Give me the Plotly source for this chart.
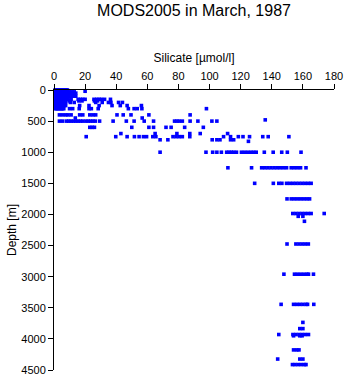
import plotly.graph_objects as go

# ---- data: depth level (m) -> silicate values (umol/l) ----
blk = [0.7, 1.5, 2.3, 3.1, 3.9, 4.7, 5.5, 6.3, 7.1, 7.9]
blk_s = [0.7, 1.5, 2.3, 3.1, 3.9, 4.7, 5.5, 6.3]

depths = [0, 10, 20, 30, 40, 50, 75, 100, 125, 150, 175, 200, 250, 300,
          400, 450, 480, 500, 600, 700, 750, 800, 825, 1000, 1250, 1500,
          1750, 1985, 2030, 2110, 2475, 2960, 3445, 3735, 3835, 3930,
          3950, 4177, 4324, 4413]

silicate_rows = [
    blk + [8.6],
    blk + [8.6],
    blk + [8.6, 20.0],
    blk + [8.6, 10.0, 11.5, 13.0],
    blk + [8.6, 9.5, 11.0],
    blk + [8.6, 10.0, 12.0, 14.0],
    blk + [9.0, 11.0, 13.0],
    blk + [8.6, 10.0, 12.0, 14.0],
    blk + [9.0],
    blk + [9.0, 11.0, 15.5, 17.0, 18.5, 20.0, 25.7, 27.5, 29.0, 30.5, 32.5, 36.3],
    blk_s + [7.5, 10.0, 16.0, 18.0, 26.0, 28.0],
    blk_s + [7.5, 10.5, 13.0, 26.8, 31.0, 35.0, 36.6, 41.5, 44.0],
    blk_s + [7.5, 16.5, 22.5, 29.0, 37.3, 42.6, 47.0, 56.2],
    blk_s + [10.0, 12.0, 16.2, 22.5, 24.0, 28.4, 47.8, 51.5, 53.5, 56.5, 98.0],
    [3.5, 5.5, 7.5, 9.0, 11.0, 16.5, 18.5, 23.0, 25.0, 26.8, 40.5, 44.5, 49.5, 61.0, 87.5],
    [13.7, 56.7],
    [135.8],
    [3.5, 5.5, 8.0, 9.5, 11.0, 12.5, 14.0, 15.5, 17.0, 18.5, 20.5, 22.0, 23.5, 25.0,
     26.5, 29.3, 38.0, 46.5, 51.5, 58.0, 64.0, 77.5, 79.0, 80.5, 82.5, 87.5, 92.5,
     101.5, 104.7],
    [23.0, 24.5, 26.0, 50.0, 61.0, 64.0, 72.0, 75.3, 84.0, 96.0],
    [43.0, 65.0, 79.0, 87.3, 94.0, 111.6],
    [20.7, 39.7, 47.0, 51.7, 54.7, 57.5, 59.5, 63.5, 65.5, 76.5, 78.5, 80.5, 82.5,
     87.3, 109.0, 113.5, 118.5, 121.5, 125.7, 134.2, 137.7, 151.0],
    [68.2, 73.2, 101.7, 104.7, 106.7, 113.5, 115.5],
    [125.0],
    [68.2, 97.7, 102.0, 104.7, 107.6, 111.0, 112.5, 114.0, 115.5, 117.3, 120.5,
     122.5, 124.5, 126.5, 128.3, 130.0, 135.2, 140.9, 146.4, 150.0, 158.8],
    [111.8, 127.0, 133.5, 135.5, 137.5, 139.5, 141.5, 143.5, 145.5, 147.5, 149.5,
     152.5, 154.5, 156.5, 158.5, 162.0],
    [129.0, 141.0, 144.5, 146.5, 149.5, 151.5, 153.5, 155.5, 157.5, 159.5, 161.5,
     163.5, 165.3],
    [149.8, 152.5, 154.5, 156.5, 158.5, 160.5, 162.5, 164.3],
    [153.5, 155.5, 157.5, 159.5, 161.5, 163.5, 165.3, 173.7],
    [157.0, 160.0],
    [161.0],
    [149.8, 155.5, 157.5, 159.5, 161.5, 163.5],
    [147.8, 154.6, 156.5, 158.5, 160.5, 162.5, 163.6, 166.8],
    [146.0, 154.0, 156.0, 158.0, 160.0, 162.0, 163.0, 167.0],
    [160.0],
    [158.0, 160.0],
    [144.5, 153.6, 155.5, 157.5, 159.5, 161.5, 163.6],
    [154.0, 158.0, 159.5],
    [154.0, 156.0, 157.5],
    [143.8, 158.0, 160.0],
    [153.3, 155.0, 157.0, 159.0, 161.0, 162.0],
]

x_ticks = [0, 20, 40, 60, 80, 100, 120, 140, 160, 180]
y_ticks = [0, 500, 1000, 1500, 2000, 2500, 3000, 3500, 4000, 4500]

xs, ys = [], []
for d, row in zip(depths, silicate_rows):
    for v in row:
        xs.append(v)
        ys.append(d)

FONT = "Liberation Sans, Arial, Helvetica, sans-serif"

fig = go.Figure(go.Scatter(
    x=xs, y=ys, mode="markers",
    marker=dict(symbol="square", size=3.6, color="#0000FF", line=dict(width=0)),
    cliponaxis=False, showlegend=False,
))

axis_common = dict(
    ticks="outside", ticklen=5, tickwidth=1, tickcolor="black",
    showline=True, linecolor="black", linewidth=1,
    showgrid=False, zeroline=False,
    tickfont=dict(family=FONT, size=11, color="black"),
)

fig.update_layout(
    width=351, height=384,
    margin=dict(l=54, r=11, t=90, b=8),
    paper_bgcolor="white", plot_bgcolor="white",
    font=dict(family=FONT, color="black"),
    title=dict(text="MODS2005 in March, 1987", font=dict(family=FONT, size=16, color="black"),
               xref="paper", x=0.5, xanchor="center",
               yref="container", y=1 - 10.5 / 384, yanchor="middle"),
    xaxis=dict(side="top", range=[0, 180], tickvals=x_ticks,
               title=dict(text="Silicate [µmol/l]", font=dict(family=FONT, size=12, color="black"),
                          standoff=4),
               **axis_common),
    yaxis=dict(range=[4500, 0], tickvals=y_ticks,
               title=dict(text="Depth [m]", font=dict(family=FONT, size=12, color="black"),
                          standoff=2),
               **axis_common),
)

fig.write_html("out.html")
